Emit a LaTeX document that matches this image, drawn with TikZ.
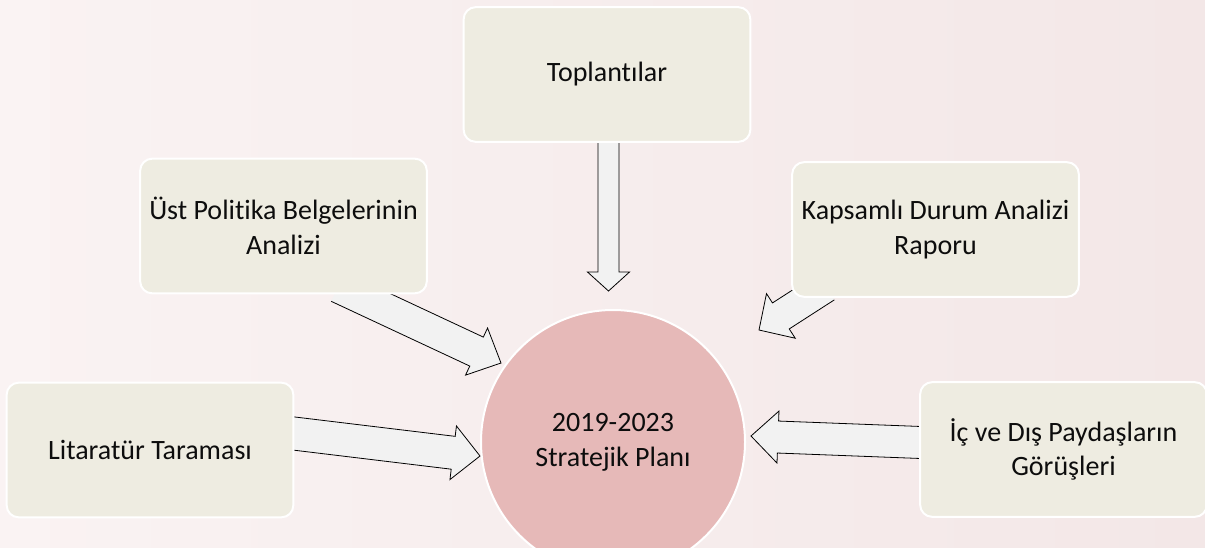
\documentclass[tikz,border=0pt]{standalone}
\usepackage{fontspec}
\setmainfont{Carlito}[Ligatures={NoCommon}]
\usepackage{tikz}
\usetikzlibrary{calc,positioning}
\definecolor{boxfill}{HTML}{EEECE1}
\definecolor{planfill}{HTML}{E6B9B8}
\definecolor{flowfill}{HTML}{F2F2F2}
\definecolor{bgleft}{HTML}{FAF3F3}
\definecolor{bgright}{HTML}{F3E7E7}
\pgfdeclarelayer{back}
\pgfdeclarelayer{flows}
\pgfsetlayers{back,flows,main}
\tikzset{
        source/.style={
                draw=white,
                line width=1.5pt,
                fill=boxfill,
                rounded corners=9pt,
                minimum width=215pt,
                minimum height=101pt,
                align=center,
                text=black!95,
                font=\fontsize{21}{26}\selectfont
            },
        plan/.style={
                circle,
                draw=white,
                line width=1.5pt,
                fill=planfill,
                minimum size=198pt,
                align=center,
                text=black!95,
                font=\fontsize{21}{26}\selectfont
            },
        flow/.style={
                draw=black,
                line width=0.6pt,
                fill=flowfill,
                line join=miter
            }
}
% block arrow: start, tip, shaft half width, head half width, head length
\newcommand\blockarrow[5]{%
  \coordinate (ba-neck) at ($(#2)!#5!(#1)$);
  \filldraw[flow] ($(#1)!#3!90:(#2)$) -- ($(ba-neck)!#3!90:(#2)$)
    -- ($(ba-neck)!#4!90:(#2)$) -- (#2) -- ($(ba-neck)!#4!-90:(#2)$)
    -- ($(ba-neck)!#3!-90:(#2)$) -- ($(#1)!#3!-90:(#2)$);
}

\begin{document}
\begin{tikzpicture}[x=0.75pt,y=-0.75pt]
  \useasboundingbox (0,0) rectangle (1205,547);
  \begin{pgfonlayer}{back}
    \fill[left color=bgleft,right color=bgright] (0,0) rectangle (1205,547);
  \end{pgfonlayer}
  % Plan
  \node[plan] (plan) at (613,442) {2019-2023\\Stratejik Planı};
  % Sources
  \node[source] (toplanti) at (607,74.5) {Toplantılar};
  \node[source] (ust) at (283.5,226) {Üst Politika Belgelerinin\\Analizi};
  \node[source] (kapsam) at (935.5,229.5) {Kapsamlı Durum Analizi\\Raporu};
  \node[source] (litaratur) at (150,450) {Litaratür Taraması};
  \node[source] (paydas) at (1063.5,449.5) {İç ve Dış Paydaşların\\Görüşleri};
  % Flows into the plan
  \begin{pgfonlayer}{flows}
    \coordinate (s1) at ($(toplanti.south)+(1.5,-10)$);
    \coordinate (t1) at (608.5,291);
    \coordinate (s2) at ($(ust.south)+(54.5,-7.5)$);
    \coordinate (t2) at (501,363);
    \coordinate (s3) at ($(kapsam.south)+(-109.5,-11)$);
    \coordinate (t3) at (759,330);
    \coordinate (s4) at ($(litaratur.east)+(-13,-18)$);
    \coordinate (t4) at (480,456);
    \coordinate (s5) at ($(paydas.west)+(15,-6.5)$);
    \coordinate (t5) at (751,436);
    \blockarrow{s1}{t1}{7.9pt}{15.75pt}{14.25pt}
    \blockarrow{s2}{t2}{12pt}{19.5pt}{20.25pt}
    \blockarrow{s3}{t3}{11.6pt}{19.9pt}{19.5pt}
    \blockarrow{s4}{t4}{12.4pt}{20.25pt}{20.25pt}
    \blockarrow{s5}{t5}{12pt}{19.5pt}{20.25pt}
  \end{pgfonlayer}
\end{tikzpicture}
\end{document}
